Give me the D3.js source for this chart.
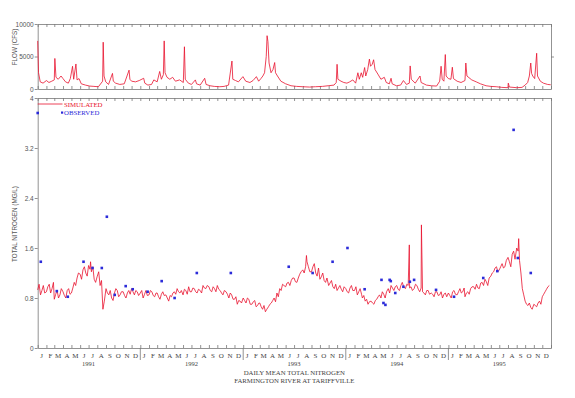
<!DOCTYPE html>
<html>
<head>
<meta charset="utf-8">
<script src="https://cdn.jsdelivr.net/npm/d3@7"></script>
<style>
  body { margin: 0; background: #fff; }
  svg { display: block; }
  .tick text { font-family: "Liberation Sans", Arial, sans-serif; font-size: 6.5px; fill: #555; }
  .axis path, .axis line { stroke: #777; stroke-width: 0.8; }
</style>
</head>
<body>
<svg id="chart"></svg>
<script>
// flow at the gage, cfs
const flowPoints = [
  ['1991-01-01', 7400], ['1991-01-04', 2500], ['1991-01-10', 1100], ['1991-01-20', 900], ['1991-02-01', 1300],
  ['1991-02-10', 1000], ['1991-02-20', 1200], ['1991-03-01', 1400], ['1991-03-03', 4700], ['1991-03-07', 1800],
  ['1991-03-15', 1500], ['1991-03-25', 2000], ['1991-04-01', 1600], ['1991-04-10', 1100], ['1991-04-20', 900],
  ['1991-04-27', 1600], ['1991-05-05', 3500], ['1991-05-09', 1500], ['1991-05-17', 3850], ['1991-05-21', 1400],
  ['1991-05-28', 1600], ['1991-06-05', 800], ['1991-06-20', 600], ['1991-07-05', 450], ['1991-07-20', 400],
  ['1991-08-05', 350], ['1991-08-20', 1200], ['1991-08-22', 7200], ['1991-08-25', 2000], ['1991-08-31', 1100],
  ['1991-09-10', 700], ['1991-09-24', 2400], ['1991-09-27', 1200], ['1991-10-05', 900], ['1991-10-20', 700],
  ['1991-11-05', 800], ['1991-11-22', 2900], ['1991-11-25', 1500], ['1991-12-01', 1200], ['1991-12-15', 1100],
  ['1991-12-28', 1300],
  ['1992-01-13', 1650], ['1992-01-17', 900], ['1992-01-28', 600], ['1992-02-10', 700], ['1992-02-18', 1400],
  ['1992-03-01', 1100], ['1992-03-10', 2700], ['1992-03-16', 1500], ['1992-03-23', 2200], ['1992-03-26', 7400],
  ['1992-03-29', 2500], ['1992-04-05', 1800], ['1992-04-15', 1500], ['1992-04-25', 1800], ['1992-05-05', 1200],
  ['1992-05-20', 1400], ['1992-06-02', 1000], ['1992-06-06', 6500], ['1992-06-09', 1500], ['1992-06-20', 900],
  ['1992-07-01', 700], ['1992-07-15', 1400], ['1992-07-19', 800], ['1992-08-01', 600], ['1992-08-17', 1650],
  ['1992-08-22', 700], ['1992-09-05', 500], ['1992-09-20', 400], ['1992-10-10', 350], ['1992-10-25', 400],
  ['1992-11-10', 600], ['1992-11-22', 4300], ['1992-11-25', 1500], ['1992-12-05', 1300], ['1992-12-15', 1100],
  ['1992-12-31', 1900],
  ['1993-01-10', 1200], ['1993-01-25', 1000], ['1993-02-05', 1300], ['1993-02-17', 1900], ['1993-02-25', 1200],
  ['1993-03-05', 1600], ['1993-03-12', 2000], ['1993-03-18', 2500], ['1993-03-24', 5000], ['1993-03-27', 8200],
  ['1993-03-30', 7300], ['1993-04-03', 4000], ['1993-04-10', 2500], ['1993-04-17', 3000], ['1993-04-23', 4070],
  ['1993-04-26', 2500], ['1993-05-03', 2000], ['1993-05-15', 1200], ['1993-06-01', 800], ['1993-06-20', 500],
  ['1993-07-10', 400], ['1993-08-01', 350], ['1993-08-25', 300], ['1993-09-15', 350], ['1993-10-10', 400],
  ['1993-10-30', 500], ['1993-11-20', 600], ['1993-11-28', 1000], ['1993-12-01', 3800], ['1993-12-04', 1500],
  ['1993-12-15', 1200], ['1993-12-25', 1000],
  ['1994-01-05', 900], ['1994-01-15', 1100], ['1994-01-26', 1400], ['1994-02-05', 900], ['1994-02-13', 2500],
  ['1994-02-18', 1500], ['1994-02-25', 2500], ['1994-03-02', 1800], ['1994-03-09', 3300], ['1994-03-13', 2000],
  ['1994-03-20', 3000], ['1994-03-26', 4600], ['1994-03-30', 3500], ['1994-04-05', 3800], ['1994-04-10', 4500],
  ['1994-04-15', 3000], ['1994-04-25', 2300], ['1994-05-06', 1500], ['1994-05-18', 1800], ['1994-05-25', 1000],
  ['1994-06-05', 800], ['1994-06-11', 1650], ['1994-06-15', 800], ['1994-06-30', 500], ['1994-07-15', 600],
  ['1994-07-25', 1300], ['1994-08-05', 700], ['1994-08-15', 900], ['1994-08-18', 3550], ['1994-08-22', 1500],
  ['1994-09-05', 900], ['1994-09-22', 2000], ['1994-09-26', 1000], ['1994-10-15', 600], ['1994-11-01', 500],
  ['1994-11-20', 450], ['1994-12-01', 1200], ['1994-12-06', 3500], ['1994-12-10', 1500], ['1994-12-16', 1200],
  ['1994-12-21', 5300], ['1994-12-24', 2000],
  ['1995-01-01', 1600], ['1995-01-10', 1500], ['1995-01-15', 3350], ['1995-01-19', 1600], ['1995-02-01', 1200],
  ['1995-02-15', 1000], ['1995-03-01', 1300], ['1995-03-04', 4000], ['1995-03-08', 2000], ['1995-03-25', 1400],
  ['1995-04-10', 1100], ['1995-04-25', 800], ['1995-05-15', 500], ['1995-06-01', 400], ['1995-06-20', 350],
  ['1995-07-10', 250], ['1995-08-01', 200], ['1995-08-02', 900], ['1995-08-06', 300], ['1995-09-01', 200],
  ['1995-09-20', 250], ['1995-10-01', 600], ['1995-10-10', 1000], ['1995-10-16', 2000], ['1995-10-21', 4000],
  ['1995-10-24', 2400], ['1995-10-28', 2000], ['1995-11-04', 1600], ['1995-11-11', 5500], ['1995-11-14', 2000],
  ['1995-11-24', 1200], ['1995-12-05', 900], ['1995-12-20', 700], ['1995-12-31', 650]
];

// simulated total nitrogen, mg/L: readings on the 1st, 11th, 21st of each month
const years = [1991, 1992, 1993, 1994, 1995];
const simulated = {
  1991: [0.93,0.85,1.00, 0.90,1.02,0.95, 0.78,0.92,0.85, 0.90,0.80,0.95, 0.88,1.05,1.12, 1.18,1.25,1.20,
         1.32,1.22,1.10, 1.15,1.00,0.62, 0.95,0.85,0.80, 0.88,0.92,0.85, 0.90,0.80,0.92, 0.95,0.85,0.90],
  1992: [0.88,0.80,0.92, 0.85,0.90,0.82, 0.88,0.78,0.90, 0.85,0.75,0.82, 0.90,0.95,0.88, 0.85,0.92,0.98,
         0.90,0.95,0.88, 0.92,1.00,0.95, 0.98,0.90,0.95, 1.00,0.92,0.85, 0.90,0.80,0.85, 0.78,0.70,0.75],
  1993: [0.80,0.72,0.78, 0.70,0.76,0.68, 0.72,0.62,0.58, 0.66,0.72,0.80, 0.88,0.95,1.02, 0.98,1.05,1.08,
         1.12,1.05,1.18, 1.25,1.30,1.30, 1.22,1.35,1.15, 1.10,1.20,1.05, 1.00,1.08,0.95, 0.92,1.00,0.90],
  1994: [0.95,0.88,1.00, 0.92,0.85,0.95, 0.80,0.75,0.70, 0.75,0.70,0.78, 0.85,0.90,0.80, 0.95,1.00,0.92,
         1.00,0.92,1.05, 0.95,1.00,0.98, 0.95,1.00,0.90, 0.90,0.85,0.92, 0.88,0.82,0.90, 0.85,0.80,0.88],
  1995: [0.88,0.80,0.92, 0.85,0.95,0.90, 0.82,0.90,0.95, 0.98,1.02,0.95, 1.05,1.10,1.00, 1.15,1.22,1.30,
         1.25,1.35,1.30, 1.45,1.30,1.55, 1.60,1.40,0.95, 0.75,0.68,0.65, 0.70,0.66,0.75, 0.82,0.90,0.98]
};
// readings on the 6th, 16th, 26th of each month
const simulatedMid = {
  1991: [1.02,0.92,0.88, 0.98,0.88,1.05, 0.86,0.80,0.95, 0.84,0.92,0.86, 0.96,1.00,1.20, 1.10,1.30,1.15,
         1.26,1.30,1.05, 1.22,1.08,0.75, 0.88,0.92,0.76, 0.95,0.82,0.90, 0.84,0.88,0.86, 0.90,0.92,0.84],
  1992: [0.92,0.86,0.84, 0.92,0.84,0.88, 0.82,0.86,0.84, 0.80,0.84,0.88, 0.86,0.90,0.92, 0.94,0.86,0.90,
         0.96,0.90,0.94, 0.88,0.96,1.00, 0.92,0.98,0.90, 0.94,0.88,0.92, 0.86,0.88,0.78, 0.82,0.76,0.72],
  1993: [0.76,0.80,0.70, 0.74,0.66,0.72, 0.66,0.68,0.62, 0.70,0.76,0.74, 0.82,0.92,1.00, 1.04,1.00,1.12,
         1.06,1.12,1.22, 1.20,1.38,1.22, 1.30,1.20,1.28, 1.14,1.08,1.12, 1.04,0.98,1.02, 0.96,0.94,0.98],
  1994: [0.90,0.96,0.92, 0.98,0.90,0.86, 0.84,0.78,0.74, 0.72,0.76,0.82, 0.80,0.86,0.90, 0.88,0.96,0.98,
         0.94,1.00,0.98, 1.02,0.96,0.92, 1.02,0.94,0.96, 0.88,0.92,0.86, 0.86,0.90,0.84, 0.90,0.86,0.82],
  1995: [0.84,0.90,0.86, 0.90,0.88,0.96, 0.88,0.86,0.98, 0.94,0.96,1.04, 1.00,1.06,1.12, 1.20,1.28,1.22,
         1.30,1.28,1.40, 1.38,1.50,1.42, 1.55,1.20,0.85, 0.70,0.72,0.62, 0.68,0.72,0.70, 0.86,0.94,1.00]
};
// short spikes in the simulated series
const simulatedSpikes = [
  ['1991-07-08', 1.38], ['1993-08-14', 1.48], ['1994-08-15', 1.65], ['1994-09-27', 1.97], ['1995-09-08', 1.75]
];

// observed samples, mg/L
const observed = [
  ['1991-01-01', 3.76], ['1991-01-12', 1.38], ['1991-03-10', 0.91], ['1991-04-18', 0.82], ['1991-06-13', 1.38],
  ['1991-07-15', 1.28], ['1991-08-17', 1.28], ['1991-09-04', 2.10], ['1991-10-02', 0.85], ['1991-11-10', 0.99],
  ['1991-12-05', 0.94], ['1992-01-27', 0.90], ['1992-03-17', 1.07], ['1992-05-02', 0.80], ['1992-07-20', 1.20],
  ['1992-11-18', 1.20], ['1993-06-12', 1.30], ['1993-09-05', 1.20], ['1993-11-15', 1.38], ['1994-01-07', 1.60],
  ['1994-03-09', 0.94], ['1994-05-08', 1.09], ['1994-05-15', 0.72], ['1994-05-22', 0.69], ['1994-06-06', 1.09],
  ['1994-06-10', 1.07], ['1994-06-26', 0.88], ['1994-07-25', 0.98], ['1994-08-17', 1.06], ['1994-09-01', 1.09],
  ['1994-11-18', 0.93], ['1995-01-21', 0.82], ['1995-05-05', 1.12], ['1995-06-24', 1.23], ['1995-08-21', 3.49],
  ['1995-09-05', 1.44], ['1995-10-21', 1.20]
];

const monthLetters = ['J','F','M','A','M','J','J','A','S','O','N','D'];
const flowTicks = [0, 5000, 10000];
const nitroTicks = [0, 0.8, 1.6, 2.4, 3.2, 4];

const svgWidth = 575, svgHeight = 398;
const red = '#e8112d', blue = '#2b2bd9';
const serif = '"Liberation Serif", "Times New Roman", serif';
const sans = '"Liberation Sans", Arial, sans-serif';
const parse = d3.timeParse('%Y-%m-%d');

const svg = d3.select('#chart').attr('width', svgWidth).attr('height', svgHeight);

const x = d3.scaleTime()
  .domain([new Date(1991, 0, 1), new Date(1996, 0, 1)])
  .range([37.7, 551]);
const yFlow = d3.scaleLinear().domain([0, 10000]).range([89, 24]);
const yN = d3.scaleLinear().domain([0, 4]).range([348, 98]);

const months = d3.timeMonth.range(new Date(1991, 0, 1), new Date(1996, 0, 2));

// frame + tick helper for a panel
function frame(y, top, bottom, ticks, fmt, rightTicks) {
  svg.append('g').attr('class', 'axis')
    .attr('transform', 'translate(0,' + top + ')')
    .call(d3.axisBottom(x).tickValues(months).tickSize(3).tickSizeOuter(0).tickFormat(''));
  svg.append('g').attr('class', 'axis')
    .attr('transform', 'translate(0,' + bottom + ')')
    .call(d3.axisTop(x).tickValues(months).tickSize(3).tickSizeOuter(0).tickFormat(''));
  svg.append('g').attr('class', 'axis')
    .attr('transform', 'translate(' + x.range()[0] + ',0)')
    .call(d3.axisLeft(y).tickValues(ticks).tickSize(3).tickSizeOuter(0).tickPadding(1).tickFormat(fmt));
  svg.append('g').attr('class', 'axis')
    .attr('transform', 'translate(' + x.range()[1] + ',0)')
    .call(d3.axisRight(y).tickValues(rightTicks).tickSize(3).tickSizeOuter(0).tickFormat(''));
}

frame(yFlow, 24, 89, flowTicks, d3.format('d'), [5000]);
frame(yN, 98, 348, nitroTicks, d => (d === 0 || d === 4) ? d : d.toFixed(1), []);

// flow line
const flowLine = d3.line().x(d => x(parse(d[0]))).y(d => yFlow(d[1]));
svg.append('path')
  .datum(flowPoints)
  .attr('d', flowLine)
  .attr('fill', 'none')
  .attr('stroke', red)
  .attr('stroke-width', 0.8);

// simulated nitrogen line: both sets of readings merged with spikes
let simSeries = [];
years.forEach(yr => {
  simulated[yr].forEach((v, i) => {
    simSeries.push([new Date(yr, Math.floor(i / 3), 1 + (i % 3) * 10), v]);
  });
  simulatedMid[yr].forEach((v, i) => {
    simSeries.push([new Date(yr, Math.floor(i / 3), 6 + (i % 3) * 10), v]);
  });
});
simulatedSpikes.forEach(s => simSeries.push([parse(s[0]), s[1]]));
simSeries.sort((a, b) => a[0] - b[0]);

svg.append('path')
  .datum(simSeries)
  .attr('d', d3.line().x(d => x(d[0])).y(d => yN(d[1])))
  .attr('fill', 'none')
  .attr('stroke', red)
  .attr('stroke-width', 0.8);

// observed squares
svg.selectAll('rect.obs')
  .data(observed)
  .enter()
  .append('rect')
  .attr('class', 'obs')
  .attr('x', d => x(parse(d[0])) - 1.3)
  .attr('y', d => yN(d[1]) - 1.3)
  .attr('width', 2.6)
  .attr('height', 2.6)
  .attr('fill', blue);

// legend
svg.append('line')
  .attr('x1', 37.7).attr('x2', 62.5).attr('y1', 104).attr('y2', 104)
  .attr('stroke', red).attr('stroke-width', 0.8);
svg.append('text')
  .attr('x', 64).attr('y', 106.5)
  .attr('font-family', serif).attr('font-size', 6.8).attr('fill', red)
  .text('SIMULATED');
svg.append('rect')
  .attr('x', 61).attr('y', 111.5).attr('width', 2.2).attr('height', 2.2).attr('fill', blue);
svg.append('text')
  .attr('x', 64).attr('y', 114.5)
  .attr('font-family', serif).attr('font-size', 6.8).attr('fill', blue)
  .text('OBSERVED');

// month letters
svg.selectAll('text.month')
  .data(months.slice(0, 60))
  .enter()
  .append('text')
  .attr('class', 'month')
  .attr('x', d => x(new Date(d.getFullYear(), d.getMonth(), 15)))
  .attr('y', 358)
  .attr('text-anchor', 'middle')
  .attr('font-family', serif).attr('font-size', 7).attr('fill', '#444')
  .text(d => monthLetters[d.getMonth()]);

// year separators and labels
svg.selectAll('line.yearsep')
  .data(years.slice(1))
  .enter()
  .append('line')
  .attr('x1', d => x(new Date(d, 0, 1))).attr('x2', d => x(new Date(d, 0, 1)))
  .attr('y1', 348).attr('y2', 360)
  .attr('stroke', '#777').attr('stroke-width', 0.8);
svg.selectAll('text.year')
  .data(years)
  .enter()
  .append('text')
  .attr('x', d => x(new Date(d, 6, 1)))
  .attr('y', 366)
  .attr('text-anchor', 'middle')
  .attr('font-family', serif).attr('font-size', 6.5).attr('fill', '#444')
  .text(d => d);

// titles
const cx = (x.range()[0] + x.range()[1]) / 2;
svg.append('text').attr('x', cx).attr('y', 375)
  .attr('text-anchor', 'middle').attr('font-family', serif).attr('font-size', 6.8).attr('fill', '#444')
  .text('DAILY MEAN TOTAL NITROGEN');
svg.append('text').attr('x', cx).attr('y', 382.5)
  .attr('text-anchor', 'middle').attr('font-family', serif).attr('font-size', 6.8).attr('fill', '#444')
  .text('FARMINGTON RIVER AT TARIFFVILLE');

// y titles
svg.append('text')
  .attr('transform', 'translate(16.5,47) rotate(-90)')
  .attr('text-anchor', 'middle').attr('font-family', sans).attr('font-size', 6.3).attr('fill', '#555')
  .text('FLOW (CFS)');
svg.append('text')
  .attr('transform', 'translate(16.5,224) rotate(-90)')
  .attr('text-anchor', 'middle').attr('font-family', sans).attr('font-size', 6.3).attr('fill', '#555')
  .text('TOTAL NITROGEN (MG/L)');
</script>
</body>
</html>
